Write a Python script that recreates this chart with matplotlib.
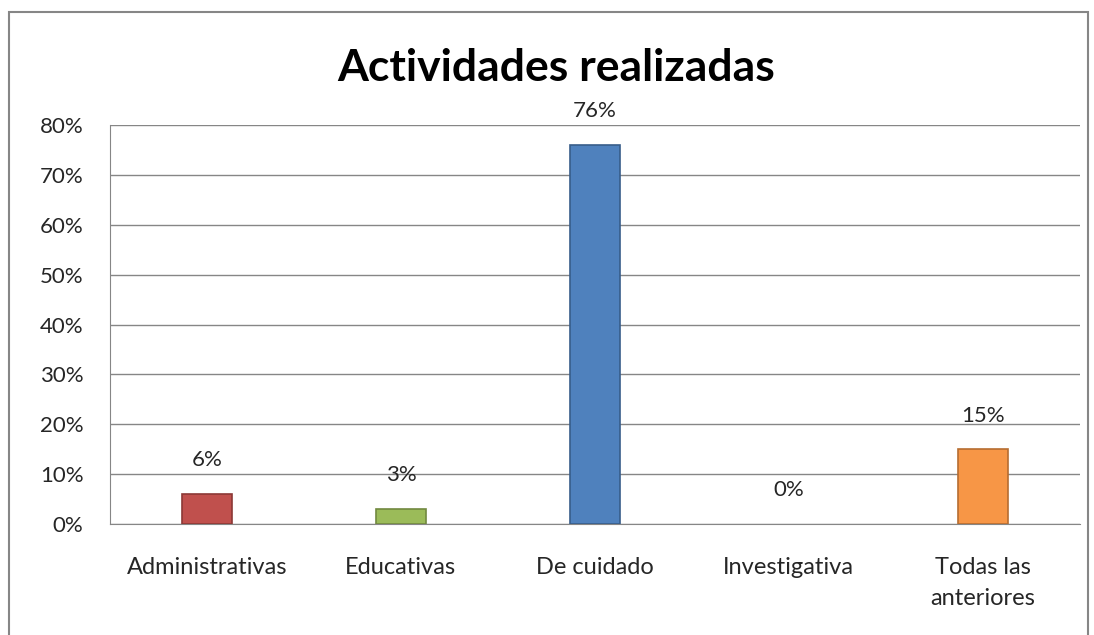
import matplotlib
matplotlib.use("Agg")
import matplotlib.pyplot as plt
import matplotlib.ticker as ticker
from matplotlib.patches import Rectangle

categories = ["Administrativas", "Educativas", "De cuidado", "Investigativa", "Todas las\nanteriores"]
values = [6, 3, 76, 0, 15]
labels = ["6%", "3%", "76%", "0%", "15%"]
colors = ["#C0504D", "#9BBB59", "#4F81BD", "#8064A2", "#F79646"]
edges = ["#8C3836", "#71893F", "#385D8A", "#5C4776", "#B66D31"]

plt.rcParams['font.family'] = ['Lato', 'DejaVu Sans']

fig = plt.figure(figsize=(10.94, 6.35), dpi=100)
ax = fig.add_axes([0.1005, 0.1748, 0.8865, 0.6282])

x = range(len(categories))
lw = [1.2 if v > 0 else 0 for v in values]
bars = ax.bar(x, values, width=0.26, color=colors, edgecolor=edges, linewidth=lw, zorder=3)

for b, lab in zip(bars, labels):
    ax.annotate(lab, xy=(b.get_x() + b.get_width() / 2, b.get_height()),
                xytext=(0, 17), textcoords="offset points",
                ha="center", va="bottom", fontsize=16, color="#262626")

ax.set_xlim(-0.5, len(categories) - 0.5)
ax.set_ylim(0, 80)
ax.yaxis.set_major_locator(ticker.MultipleLocator(10))
ax.yaxis.set_major_formatter(ticker.FuncFormatter(lambda v, p: "%d%%" % v))
ax.grid(axis="y", color="#868686", linewidth=1, zorder=0)
ax.set_xticks(list(x))
ax.set_xticklabels(categories, fontsize=17, color="#262626", linespacing=1.55)
ax.tick_params(axis="y", labelsize=16, labelcolor="#262626", length=0, pad=19)
ax.tick_params(axis="x", length=0, pad=24)
for side in ["top", "right"]:
    ax.spines[side].set_visible(False)
ax.spines["left"].set_color("#868686")
ax.spines["bottom"].set_color("#868686")

fig.text(0.508, 0.893, "Actividades realizadas", ha="center", va="center",
         fontsize=32, fontweight="bold", color="black")

fig.patches.append(Rectangle((9 / 1094, -0.01), 1079 / 1094, 1 - 12 / 635 + 0.01,
                             transform=fig.transFigure, fill=False,
                             edgecolor="#868686", linewidth=1.5))

fig.savefig("out.png", dpi=100)
